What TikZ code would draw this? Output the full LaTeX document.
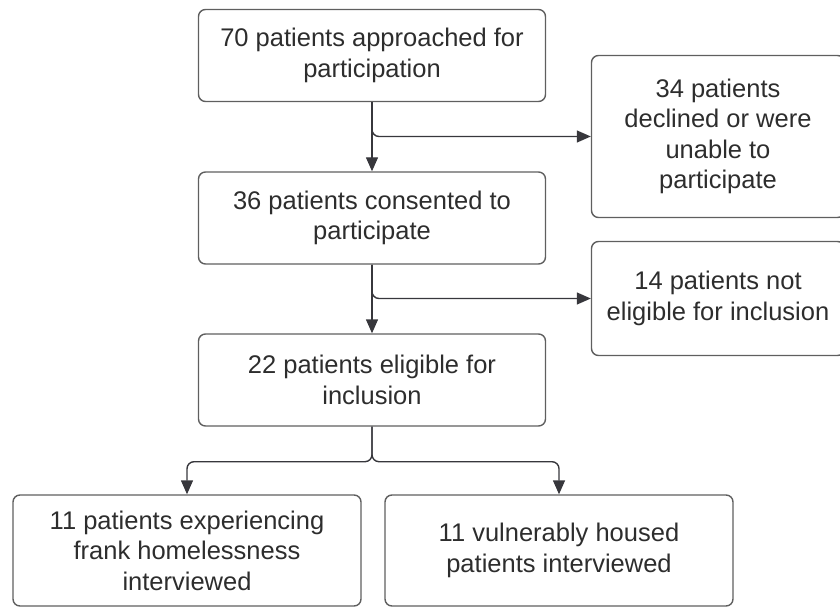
\documentclass[tikz,border=0pt]{standalone}
\usepackage{fontspec}
\setmainfont{Liberation Sans}
\usepackage{xcolor}
\definecolor{boxgray}{RGB}{95, 95, 95}
\definecolor{textgray}{RGB}{45, 45, 45}
\definecolor{arrowgray}{RGB}{55, 55, 60}
\usepackage{tikz}
\usetikzlibrary{arrows.meta, positioning, calc}

\tikzset{
    stagebox/.style={draw=boxgray, line width=1.4pt, rounded corners=7pt,
        text=textgray, align=center, inner sep=0pt,
        font=\fontsize{25.5}{30.5}\selectfont},
    mainbox/.style={stagebox, minimum width=347pt, minimum height=92pt},
    sidebox/.style={stagebox, minimum width=253pt},
    flowline/.style={draw=arrowgray, line width=1.4pt, rounded corners=7pt,
        -{Triangle[length=14pt, width=12pt]}}
}

\begin{document}
\begin{tikzpicture}[x=1pt, y=-1pt]
    \useasboundingbox (0, 0) rectangle (840, 612);

    % main column
    \node[mainbox] (approached) at (372, 55.5) {70 patients approached for\\participation};
    \node[mainbox] (consented) at (372, 218) {36 patients consented to\\participate};
    \node[mainbox] (eligible) at (372, 380) {22 patients eligible for\\inclusion};

    % exclusions
    \node[sidebox, minimum height=162pt] (declined) at (718, 136.5) {34 patients\\declined or were\\unable to\\participate};
    \node[sidebox, minimum height=114pt] (noteligible) at (718, 298.5) {14 patients not\\eligible for inclusion};

    % interviewed groups
    \node[stagebox, minimum width=348pt, minimum height=111pt] (homeless) at (187, 550.5) {11 patients experiencing\\frank homelessness\\interviewed};
    \node[stagebox, minimum width=348pt, minimum height=111pt] (housed) at (559, 550.5) {11 vulnerably housed\\patients interviewed};

    \draw[flowline] (approached.south) -- (consented.north);
    \draw[flowline] (approached.south) |- (declined.west);
    \draw[flowline] (consented.south) -- (eligible.north);
    \draw[flowline] (consented.south) |- (noteligible.west);

    \coordinate (split) at ($(eligible.south) + (0, 35)$);
    \draw[flowline] (eligible.south) |- (split -| homeless.north) -- (homeless.north);
    \draw[flowline] (eligible.south) |- (split -| housed.north) -- (housed.north);
\end{tikzpicture}
\end{document}
